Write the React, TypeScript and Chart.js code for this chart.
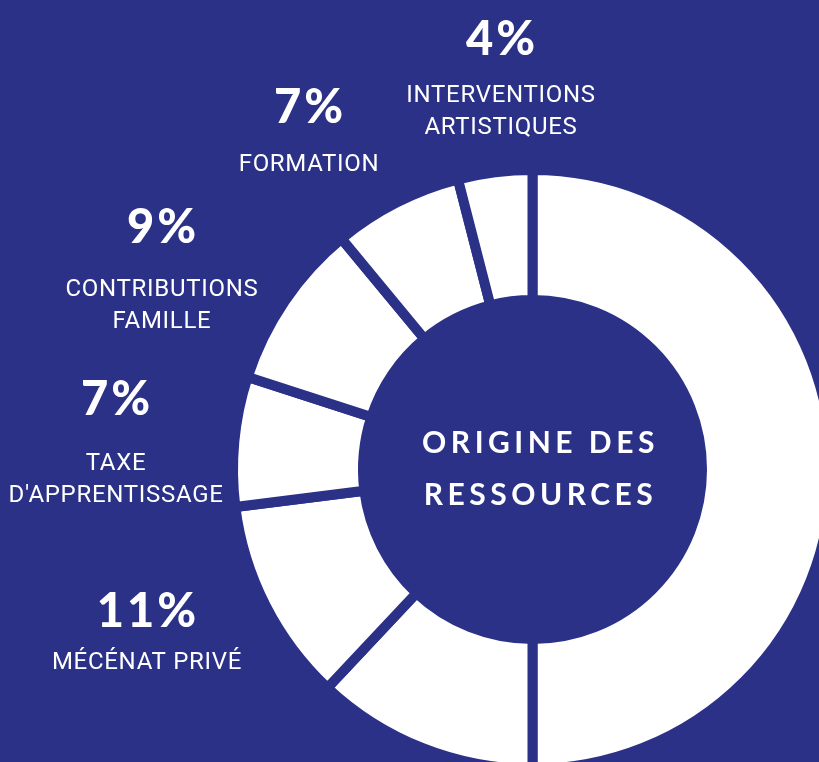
import { useEffect, useRef } from "react";
import { Chart, registerables } from "chart.js";

Chart.register(...registerables);

const BG = "#2b3187";

// Clockwise from 12 o'clock
const categories = [
  "Ressource hors cadre A",
  "Ressource hors cadre B",
  "MÉCÉNAT PRIVÉ",
  "TAXE D'APPRENTISSAGE",
  "CONTRIBUTIONS FAMILLE",
  "FORMATION",
  "INTERVENTIONS ARTISTIQUES",
];
const shares = [50, 12, 11, 7, 9, 7, 4];

const percentTexts = ["4%", "7%", "9%", "7%", "11%"];
const labelLines = [
  ["INTERVENTIONS", "ARTISTIQUES"],
  ["FORMATION"],
  ["CONTRIBUTIONS", "FAMILLE"],
  ["TAXE", "D'APPRENTISSAGE"],
  ["MÉCÉNAT PRIVÉ"],
];
const titleLines = ["ORIGINE DES", "RESSOURCES"];

// annotation anchor positions (layout)
const anchors = [
  { x: 501, y: 40, ly: 96 },
  { x: 309, y: 108, ly: 165 },
  { x: 162, y: 228, ly: 290 },
  { x: 116, y: 400, ly: 464 },
  { x: 147, y: 612, ly: 663 },
];

const annotationPlugin = {
  id: "annotations",
  afterDraw(chart: any) {
    const ctx = chart.ctx as CanvasRenderingContext2D;
    ctx.save();
    ctx.fillStyle = "#ffffff";
    ctx.textAlign = "center";
    ctx.textBaseline = "middle";
    anchors.forEach((a, i) => {
      ctx.font = "900 47px Lato";
      (ctx as any).letterSpacing = "3px";
      ctx.fillText(percentTexts[i], a.x + 1, a.y);
      ctx.font = "400 24px Roboto";
      (ctx as any).letterSpacing = "0.7px";
      labelLines[i].forEach((l, j) => ctx.fillText(l, a.x, a.ly + j * 32));
    });
    const el = chart.getDatasetMeta(0).data[0];
    const cx = el.x + 8;
    const cy = el.y;
    ctx.font = "700 30px Lato";
    (ctx as any).letterSpacing = "4.5px";
    ctx.fillText(titleLines[0], cx, cy - 26);
    ctx.fillText(titleLines[1], cx, cy + 26);
    ctx.restore();
  },
};

export default function App() {
  const ref = useRef<HTMLCanvasElement | null>(null);
  useEffect(() => {
    if (!ref.current) return;
    const chart = new Chart(ref.current, {
      type: "doughnut",
      data: {
        labels: categories,
        datasets: [
          {
            data: shares,
            backgroundColor: "#ffffff",
            borderColor: BG,
            borderWidth: 10,
            hoverOffset: 0,
          },
        ],
      },
      options: {
        responsive: false,
        animation: false,
        radius: 299.5,
        cutout: "56.6%",
        rotation: 0,
        plugins: {
          legend: { display: false },
          tooltip: { enabled: false },
        },
      },
      plugins: [annotationPlugin],
    });
    return () => chart.destroy();
  }, []);
  return (
    <div
      style={{
        position: "fixed",
        left: 0,
        top: 0,
        width: 819,
        height: 762,
        overflow: "hidden",
        background: BG,
      }}
    >
      <canvas
        ref={ref}
        width={1065}
        height={939}
        style={{ position: "absolute", left: 0, top: 0, width: 1065, height: 939 }}
      />
    </div>
  );
}
